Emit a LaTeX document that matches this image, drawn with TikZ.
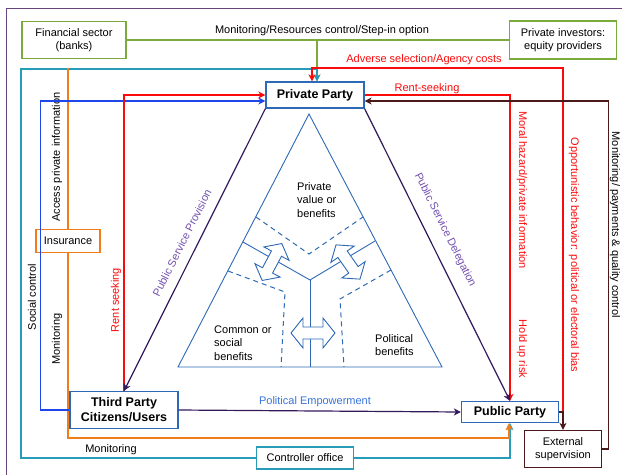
\documentclass[tikz,border=0pt]{standalone}
\usepackage{fontspec}
\setmainfont{Liberation Sans}
\usepackage{xcolor}
\usepackage{tikz}
\usetikzlibrary{arrows.meta}
\definecolor{partyblue}{RGB}{45,105,180}
\definecolor{tealln}{RGB}{40,155,185}
\definecolor{greenln}{RGB}{125,170,60}
\definecolor{orangeln}{RGB}{240,125,25}
\definecolor{brightblue}{RGB}{30,70,235}
\definecolor{redln}{RGB}{250,10,10}
\definecolor{darkpurple}{RGB}{50,25,90}
\definecolor{darkbrown}{RGB}{75,25,25}
\definecolor{lblviolet}{RGB}{115,80,175}
\definecolor{empblue}{RGB}{55,115,215}
\definecolor{framepurple}{RGB}{105,70,125}

\begin{document}
\begin{tikzpicture}[x=1pt, y=-1pt,
  every node/.style={font=\fontsize{11}{12.5}\selectfont},
  party/.style={rectangle, draw=partyblue, line width=1.2pt, fill=white, align=center,
                inner sep=0pt, font=\fontsize{12.5}{15}\selectfont\bfseries},
  actor/.style={rectangle, line width=1.2pt, fill=white, align=center, inner sep=0pt,
                font=\fontsize{11}{13.5}\selectfont},
  benefit/.style={align=left, anchor=west, inner sep=0pt, font=\fontsize{11}{13.5}\selectfont},
  tri/.style={draw=partyblue, line width=0.9pt},
  tridash/.style={draw=partyblue, line width=1pt, dash pattern=on 5pt off 4pt},
  swap/.pic={\draw[tri, fill=white, line join=miter] (-22,0) -- (-10,-15) -- (-10,-6) -- (10,-6)
             -- (10,-15) -- (22,0) -- (10,15) -- (10,6) -- (-10,6) -- (-10,15) -- cycle;},
  arr/.style={-{Stealth[length=7pt, width=7pt, inset=2pt]}},
  thinln/.style={line width=1.2pt},
  redthick/.style={redln, line width=2.2pt},
]
  \useasboundingbox (0,0) rectangle (627,475);

  % outer frame
  \draw[framepurple, line width=1pt] (6,475) -- (6,8) -- (622,8);

  % actor boxes
  \node[party, minimum width=98pt, minimum height=26pt] (private) at (315,95) {Private Party};
  \node[party, minimum width=108pt, minimum height=37pt] (third) at (124,410)
    {Third Party\\Citizens/Users};
  \node[party, minimum width=97pt, minimum height=21pt] (public) at (510,412) {Public Party};
  \node[actor, draw=greenln, minimum width=104pt, minimum height=37pt] (fin) at (74,40)
    {Financial sector\\(banks)};
  \node[actor, draw=greenln, minimum width=107pt, minimum height=38pt] (inv) at (563,40)
    {Private investors:\\equity providers};
  \node[actor, draw=orangeln, minimum width=64pt, minimum height=23pt] (insurance) at (68,241)
    {Insurance};
  \node[actor, draw=tealln, minimum width=97pt, minimum height=22pt] (controller) at (305,458)
    {Controller office};
  \node[actor, draw=darkbrown, minimum width=77pt, minimum height=37pt] (external) at (563,449)
    {External\\supervision};

  \coordinate (advtop) at (312,68);

  % green: financiers
  \draw[greenln, thinln] (fin) -- (inv);
  \draw[greenln, thinln, arr] (fin.east) -| ([xshift=2pt]private.north);
  \node (lblstep) at (322,31) {Monitoring/Resources control/Step-in option};

  % teal: controller office
  \draw[tealln, thinln, arr] (controller.west) -| (21,69) -| ([xshift=2pt]private.north);
  \draw[tealln, thinln, arr] (controller.east) -| (public.south);
  \node (lblmon) at (111,450) {Monitoring};

  % orange: insurance
  \draw[orangeln, line width=1.6pt] (insurance.north) -- ++(0,-161);
  \draw[orangeln, line width=1.6pt, arr] (insurance.south) -- ++(0,185) -| ([xshift=-1pt]public.south);
  \node[rotate=90] (lblaccess) at (57,157) {Access private information};
  \node[rotate=90] (lblmon2) at (57,339) {Monitoring};

  % blue: social control
  \draw[brightblue, thinln, arr] (third.west) -- ++(-29,0) |- ([yshift=-6pt]private.west);
  \node[rotate=90] (lblsocial) at (32,297) {Social control};

  % red: rent seeking
  \draw[redthick, line width=2.8pt, arr] (third.north) |- (private.west);
  \node[redln, rotate=90] (lblrent) at (116,300) {Rent seeking};
  \draw[redthick, arr] (private.east) -| (public.north);
  \node[redln] (lblrent2) at (427,89) {Rent-seeking};
  \node[redln, rotate=-90] (lblmoral) at (522,190) {Moral hazard/private information};
  \node[redln, rotate=-90] (lblhold) at (522,349) {Hold up risk};
  \draw[redthick, arr] (public.east) -- ++(4,0) |- (advtop) -- ([xshift=-3pt]private.north);
  \node[redln] (lbladverse) at (424,60) {Adverse selection/Agency costs};
  \node[redln, rotate=-90] (lblopp) at (574,255)
    {Opportunistic behavior: political or electoral bias};

  % brown: external supervision
  \draw[darkbrown, thinln, arr] (public.east) -| (external.north);
  \draw[darkbrown, thinln, arr] (external.east) -- ++(6,0) |- ([yshift=-6pt]private.east);
  \node[rotate=-90] (lblpay) at (615,225) {Monitoring/ payments \& quality control};

  % service relations
  \draw[darkpurple, thinln, arr] (private.south west) -- (third.north);
  \draw[darkpurple, thinln, arr] (private.south east) -- (public.north);
  \draw[darkpurple, thinln, arr] (third.east) -- (public.west);
  \node[lblviolet, rotate=63.4] (lblprov) at (182,243) {Public Service Provision};
  \node[lblviolet, rotate=-63.6] (lbldeleg) at (445,230) {Public Service Delegation};
  \node[empblue] (lblemp) at (315,402) {Political Empowerment};

  % value triangle
  \draw[tri] (309,114) -- (442,367) -- (178,367) -- cycle;
  \coordinate (ymid) at (310,280);
  \draw[tri] (243,242) -- (ymid) -- (375,241);
  \draw[tri] (ymid) -- (310,367);
  \draw[tridash] (256,217) -- (309,254) -- (363,217);
  \draw[tridash] (228,271) -- (285,292) -- (281,367);
  \draw[tridash] (391,270) -- (340,299) -- (344,367);
  \pic at (313,333) {swap};
  \pic[rotate=62, scale=0.95] at (272,262) {swap};
  \pic[rotate=-55, scale=0.95] at (348,262) {swap};
  \node[benefit] (txtpriv) at (297,200) {Private\\value or\\benefits};
  \node[benefit] (txtcommon) at (214,343) {Common or\\social\\benefits};
  \node[benefit] (txtpol) at (375,345) {Political\\benefits};
\end{tikzpicture}
\end{document}
